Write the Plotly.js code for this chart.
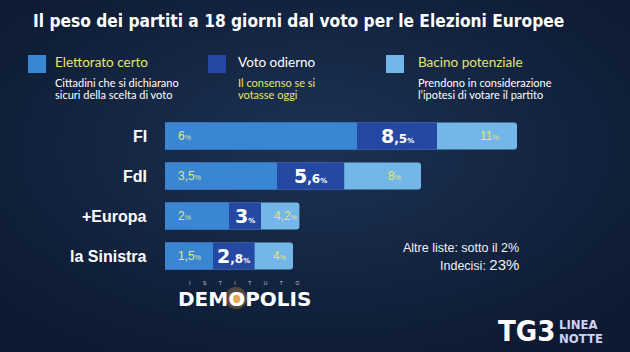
<!DOCTYPE html>
<html><head><meta charset="utf-8">
<script src="https://cdn.plot.ly/plotly-3.0.1.min.js"></script>
<style>html,body{margin:0;padding:0;background:#12223d;}#chart{width:630px;height:352px;}</style>
</head><body><div id="chart"></div>
<script>
// Data
const parties = ["FI", "FdI", "+Europa", "la Sinistra"];
const certo = [6, 3.5, 2, 1.5];        // Elettorato certo
const odierno = [8.5, 5.6, 3, 2.8];    // Voto odierno
const potenziale = [11, 8, 4.2, 4];    // Bacino potenziale

const W = 630, H = 352;
const ml = 165, mr = 17, mt = 116, mb = 76;
const pw = W - ml - mr, ph = H - mt - mb;
const px = x => (x - ml) / pw;
const py = y => 1 - (y - mt) / ph;

const cCerto = "#3b86d2", cOdierno = "#2548a2", cPot = "#73b7e9";
const yellow = "#e4e66a", pale = "#dde98e";
const cond = "DejaVu Sans Condensed, DejaVu Sans";
const fmt = v => String(v).replace(".", ",");

const common = {type: "bar", orientation: "h", y: parties, width: 0.67, hoverinfo: "none", showlegend: false};
const traces = [
  Object.assign({}, common, {name: "Bacino potenziale", x: potenziale, marker: {color: cPot}}),
  Object.assign({}, common, {name: "Voto odierno", x: odierno, marker: {color: cOdierno}}),
  Object.assign({}, common, {name: "Elettorato certo", x: certo, marker: {color: cCerto}})
];

const ann = [];
const shapes = [];
const A = (o) => ann.push(Object.assign({xref: "paper", yref: "paper", showarrow: false}, o));

// Title
A({x: px(31), y: py(21), xanchor: "left", yanchor: "middle",
   text: "Il peso dei partiti a 18 giorni dal voto per le Elezioni Europee",
   font: {family: cond, size: 17.2, color: "#ffffff", weight: "bold", stretch: "condensed"}});

// Legend blocks
const leg = [
  {sq: 28, tx: 53, col: cCerto, head: "Elettorato certo", hc: yellow, sub: ["Cittadini che si dichiarano", "sicuri della scelta di voto"], sc: "#ffffff"},
  {sq: 208, tx: 236, col: cOdierno, head: "Voto odierno", hc: "#ffffff", sub: ["Il consenso se si", "votasse oggi"], sc: yellow},
  {sq: 386, tx: 416, col: cPot, head: "Bacino potenziale", hc: yellow, sub: ["Prendono in considerazione", "l\u2019ipotesi di votare il partito"], sc: "#ffffff"}
];
leg.forEach(l => {
  shapes.push({type: "rect", xref: "paper", yref: "paper", x0: px(l.sq), x1: px(l.sq + 18), y0: py(55), y1: py(73), fillcolor: l.col, line: {width: 0}});
  A({x: px(l.tx), y: py(62), xanchor: "left", yanchor: "middle", text: l.head, font: {family: "Lato", size: 13.5, color: l.hc}});
  A({x: px(l.tx), y: py(82), xanchor: "left", yanchor: "middle", text: l.sub[0], font: {family: "Lato", size: 11, color: l.sc}});
  A({x: px(l.tx), y: py(95), xanchor: "left", yanchor: "middle", text: l.sub[1], font: {family: "Lato", size: 11, color: l.sc}});
});

// Category labels and value labels
parties.forEach((p, i) => {
  ann.push({xref: "paper", yref: "y", x: 0, y: p, xanchor: "right", yanchor: "middle", xshift: -16, showarrow: false,
    text: p, font: {family: "Liberation Sans", size: 16, color: "#ffffff", weight: "bold"}});
  ann.push({xref: "x", yref: "y", x: 0, y: p, xanchor: "left", yanchor: "middle", xshift: 11, showarrow: false,
    text: fmt(certo[i]) + '<span style="font-size:7px">%</span>', font: {family: "Liberation Sans", size: 12, color: pale}});
  const s = fmt(odierno[i]).split(",");
  const big = s[0] + (s[1] ? '<span style="font-size:12px">,' + s[1] + '</span>' : '') + '<span style="font-size:7px">%</span>';
  ann.push({xref: "x", yref: "y", x: (certo[i] + odierno[i]) / 2, y: p, xanchor: "center", yanchor: "middle", showarrow: false,
    text: big, font: {family: "DejaVu Sans", size: 19, color: "#ffffff", weight: "bold"}});
  ann.push({xref: "x", yref: "y", x: odierno[i] + 0.65 * (potenziale[i] - odierno[i]), y: p, xanchor: "center", yanchor: "middle", showarrow: false,
    text: fmt(potenziale[i]) + '<span style="font-size:7px">%</span>', font: {family: "Liberation Sans", size: 12, color: yellow}});
});

// Notes
A({x: px(521), y: py(248), xanchor: "right", yanchor: "middle", text: "Altre liste: sotto il 2%",
   font: {family: "Liberation Sans", size: 12.5, color: "#eef2f8"}});
A({x: px(521), y: py(264), xanchor: "right", yanchor: "middle", text: 'Indecisi: <span style="font-size:15px">23%</span>',
   font: {family: "Liberation Sans", size: 12.5, color: "#eef2f8"}});

// Demopolis logo
shapes.push({type: "circle", xref: "paper", yref: "paper", x0: px(225), x1: px(247), y0: py(287), y1: py(309), fillcolor: "rgba(240,160,70,0.3)", line: {width: 0}});
shapes.push({type: "circle", xref: "paper", yref: "paper", x0: px(230), x1: px(242), y0: py(292), y1: py(304), fillcolor: "rgba(245,175,90,0.9)", line: {width: 0}});
const sp = "\u00a0".repeat(9);
A({x: px(244), y: py(283), xanchor: "center", yanchor: "middle",
   text: ["I","S","T","I","T","U","T","O"].join(sp),
   font: {family: "Liberation Sans", size: 5, color: "#c8ccd6"}});
A({x: px(244), y: py(299), xanchor: "center", yanchor: "middle", text: "DEMOPOLIS",
   font: {family: "DejaVu Sans", size: 20, color: "#ffffff", weight: "bold"}});

// TG3 logo
A({x: px(496), y: py(331), xanchor: "left", yanchor: "middle", text: "TG3",
   font: {family: cond, size: 29, color: "#ffffff", weight: "bold", stretch: "condensed"}});
A({x: px(557), y: py(324), xanchor: "left", yanchor: "middle", text: "LINEA",
   font: {family: cond, size: 13, color: "#cfd3f3", weight: "bold", stretch: "condensed"}});
A({x: px(557), y: py(338), xanchor: "left", yanchor: "middle", text: "NOTTE",
   font: {family: cond, size: 13, color: "#cfd3f3", weight: "bold", stretch: "condensed"}});

// Background gradient
const svg = '<svg xmlns="http://www.w3.org/2000/svg" width="630" height="352"><defs><radialGradient id="g" cx="0.5" cy="0.42" r="0.65"><stop offset="0" stop-color="#1c3254"/><stop offset="1" stop-color="#0d1a31"/></radialGradient></defs><rect width="630" height="352" fill="url(#g)"/></svg>';
const bg = "data:image/svg+xml;base64," + btoa(svg);

const layout = {
  width: W, height: H,
  margin: {l: ml, r: mr, t: mt, b: mb, pad: 0},
  paper_bgcolor: "#13233f", plot_bgcolor: "rgba(0,0,0,0)",
  barmode: "overlay", barcornerradius: 3,
  xaxis: {range: [0, 14], visible: false, fixedrange: true},
  yaxis: {autorange: "reversed", range: [3.5, -0.5], showticklabels: false, showgrid: false, zeroline: false, showline: false, fixedrange: true},
  annotations: ann, shapes: shapes,
  images: [{source: bg, xref: "paper", yref: "paper", x: px(0), y: py(0), sizex: W / pw, sizey: H / ph,
            xanchor: "left", yanchor: "top", sizing: "stretch", layer: "below"}]
};
Plotly.newPlot("chart", traces, layout, {displayModeBar: false, staticPlot: true});
</script></body></html>
